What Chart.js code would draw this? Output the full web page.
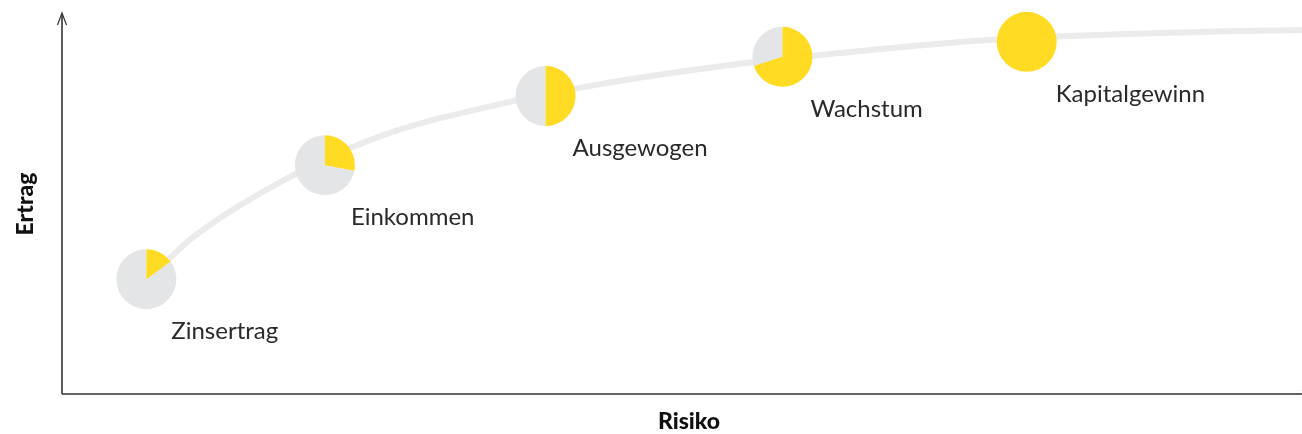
<!DOCTYPE html>
<html>
<head>
<meta charset="utf-8">
<script src="https://cdn.jsdelivr.net/npm/chart.js@4/dist/chart.umd.min.js"></script>
<style>
  html, body { margin: 0; background: #fff; }
</style>
</head>
<body>
<canvas id="myChart" width="1302" height="434"></canvas>
<script>
// Anlageprofile entlang der Risiko/Ertrag-Kurve
const profiles = ['Zinsertrag', 'Einkommen', 'Ausgewogen', 'Wachstum', 'Kapitalgewinn'];
const profileRisk = [6.8, 21.2, 39.0, 58.1, 77.8];
const profileReturn = [29.9, 59.6, 77.6, 87.8, 91.7];
const yellowShare = [15, 28, 50, 70, 100]; // % gelber Anteil im Kreis

// Verlauf der grauen Kurve
const curveRisk = [6.8, 10.6, 17.6, 25.7, 35.3, 43.4, 54.7, 62.7, 74.8, 91.8, 100];
const curveReturn = [29.4, 40.9, 55.2, 67.2, 75.5, 80.7, 86.0, 88.8, 92.2, 94.3, 94.8];

const axisTitles = { x: 'Risiko', y: 'Ertrag' };

const YELLOW = '#FFDC23';
const GREY = '#E4E5E7';

const piesAndLabels = {
  id: 'piesAndLabels',
  afterDatasetsDraw(chart) {
    const ctx = chart.ctx;
    const meta = chart.getDatasetMeta(1);
    const r = 30;
    meta.data.forEach((pt, i) => {
      const share = yellowShare[i] / 100;
      const start = -Math.PI / 2;
      const mid = start + share * Math.PI * 2;
      ctx.save();
      if (share < 1) {
        ctx.beginPath();
        ctx.moveTo(pt.x, pt.y);
        ctx.arc(pt.x, pt.y, r, mid, start + Math.PI * 2);
        ctx.closePath();
        ctx.fillStyle = GREY;
        ctx.fill();
      }
      if (share > 0) {
        ctx.beginPath();
        ctx.moveTo(pt.x, pt.y);
        ctx.arc(pt.x, pt.y, r, start, mid);
        ctx.closePath();
        ctx.fillStyle = YELLOW;
        ctx.fill();
      }
      ctx.fillStyle = '#2a2a2a';
      ctx.font = '400 24px Lato';
      ctx.textAlign = 'left';
      ctx.textBaseline = 'alphabetic';
      ctx.fillText(profiles[i], pt.x + 25 + i, pt.y + 60);
      ctx.restore();
    });
  }
};

const axesWithArrows = {
  id: 'axesWithArrows',
  afterDraw(chart) {
    const ctx = chart.ctx;
    const a = chart.chartArea;
    const x0 = a.left, y0 = a.bottom;
    ctx.save();
    ctx.strokeStyle = '#333';
    ctx.lineWidth = 1.6;
    ctx.beginPath();
    ctx.moveTo(x0, y0);
    ctx.lineTo(x0, 14);
    ctx.moveTo(x0, y0);
    ctx.lineTo(a.right + 10, y0);
    ctx.stroke();
    ctx.lineWidth = 1.2;
    ctx.beginPath();
    ctx.moveTo(x0 - 4.5, 25);
    ctx.lineTo(x0, 13);
    ctx.lineTo(x0 + 4.5, 25);
    ctx.moveTo(a.right, y0 - 4);
    ctx.lineTo(a.right + 11, y0);
    ctx.lineTo(a.right, y0 + 4);
    ctx.stroke();

    ctx.fillStyle = '#111';
    ctx.font = '900 23px Lato';
    ctx.textAlign = 'center';
    ctx.textBaseline = 'alphabetic';
    ctx.fillText(axisTitles.x, 689, 429);
    ctx.translate(33, (a.top + a.bottom) / 2 + 2);
    ctx.rotate(-Math.PI / 2);
    ctx.fillText(axisTitles.y, 0, 0);
    ctx.restore();
  }
};

const ctx = document.getElementById('myChart');
const myChart = new Chart(ctx, {
  type: 'scatter',
  data: {
    datasets: [{
      type: 'line',
      data: curveRisk.map((x, i) => ({ x: x, y: curveReturn[i] })),
      borderColor: '#EBEBEB',
      borderWidth: 6,
      cubicInterpolationMode: 'monotone',
      pointRadius: 0,
      fill: false
    }, {
      data: profileRisk.map((x, i) => ({ x: x, y: profileReturn[i] })),
      pointRadius: 0,
      pointHoverRadius: 0
    }]
  },
  options: {
    responsive: false,
    animation: false,
    events: [],
    layout: { padding: { left: 62, right: 0, top: 10, bottom: 40 } },
    plugins: { legend: { display: false }, tooltip: { enabled: false } },
    scales: {
      x: { type: 'linear', min: 0, max: 100, display: false },
      y: { type: 'linear', min: 0, max: 100, display: false }
    }
  },
  plugins: [piesAndLabels, axesWithArrows]
});
</script>
</body>
</html>
